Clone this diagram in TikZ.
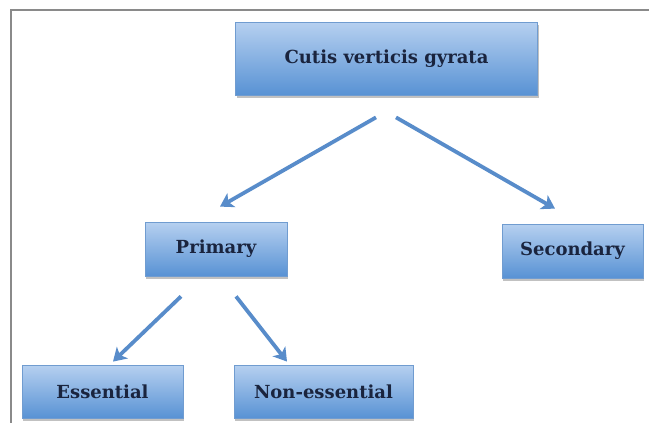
\documentclass[tikz,border=0pt]{standalone}
\usepackage{fontspec}
\setmainfont{DejaVu Serif}
\usepackage{xcolor}
\definecolor{cvgtop}{RGB}{182,208,240}
\definecolor{cvgbottom}{RGB}{88,146,212}
\definecolor{cvgedge}{RGB}{112,156,208}
\definecolor{cvgtext}{RGB}{26,36,62}
\definecolor{cvgarrow}{RGB}{88,140,202}
\definecolor{cvgframe}{RGB}{138,138,138}
\usepackage{tikz}
\usetikzlibrary{arrows.meta, shadows}

\tikzset{
  typebox/.style={draw=cvgedge, line width=0.8pt, top color=cvgtop, bottom color=cvgbottom,
    text=cvgtext, font=\bfseries\fontsize{18}{21}\selectfont, inner sep=0pt,
    drop shadow={shadow xshift=1pt, shadow yshift=-3pt, opacity=0.35, fill=black!70}},
  flowarrow/.style={-{Stealth[length=13pt, width=16pt, inset=3.5pt]}, cvgarrow, line width=3.8pt}
}

\begin{document}
\begin{tikzpicture}[x=1pt, y=-1pt]

\useasboundingbox (0,0) rectangle (649,423);

% --- Frame ---
\draw[cvgframe, line width=1.5pt] (11,423) -- (11,10) -- (649,10);

% --- Boxes ---
\node[typebox, minimum width=302pt, minimum height=73pt] (cutis) at (386.5,58.5) {Cutis verticis gyrata};
\node[typebox, minimum width=142pt, minimum height=54pt] (primary) at (216,249) {Primary};
\node[typebox, minimum width=141pt, minimum height=54pt] (secondary) at (572.5,251) {Secondary};
\node[typebox, minimum width=161pt, minimum height=53pt] (essential) at (102.5,391.5) {Essential};
\node[typebox, minimum width=179pt, minimum height=53pt] (nonessential) at (323.5,391.5) {Non-essential};

% --- Arrows ---
\draw[flowarrow] ([shift={(-10.5,22)}]cutis.south) -- ([shift={(4,-15)}]primary.north);
\draw[flowarrow] ([shift={(9.5,22)}]cutis.south) -- ([shift={(-17.5,-15)}]secondary.north);
\draw[flowarrow] ([shift={(-35,20)}]primary.south) -- ([shift={(10.5,-3)}]essential.north);
\draw[flowarrow] ([shift={(20,20)}]primary.south) -- ([shift={(-36.5,-3)}]nonessential.north);

\end{tikzpicture}
\end{document}
